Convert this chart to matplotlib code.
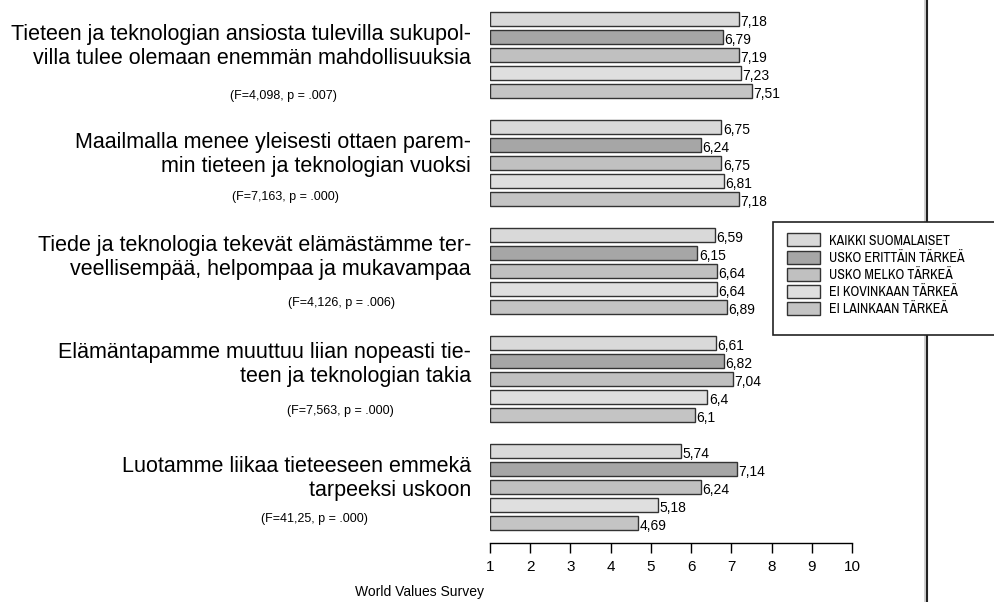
import matplotlib
matplotlib.use("Agg")
import matplotlib.pyplot as plt
import matplotlib.transforms as mtransforms
from matplotlib import font_manager
from matplotlib.font_manager import FontProperties
from matplotlib.patches import Rectangle
from matplotlib.lines import Line2D

# statements, each split onto two lines as in the report
statements = [
    "Tieteen ja teknologian ansiosta tulevilla sukupol-\nvilla tulee olemaan enemmän mahdollisuuksia",
    "Maailmalla menee yleisesti ottaen parem-\nmin tieteen ja teknologian vuoksi",
    "Tiede ja teknologia tekevät elämästämme ter-\nveellisempää, helpompaa ja mukavampaa",
    "Elämäntapamme muuttuu liian nopeasti tie-\nteen ja teknologian takia",
    "Luotamme liikaa tieteeseen emmekä\ntarpeeksi uskoon",
]
f_tests = [
    "(F=4,098, p = .007)",
    "(F=7,163, p = .000)",
    "(F=4,126, p = .006)",
    "(F=7,563, p = .000)",
    "(F=41,25, p = .000)",
]
groups = [
    "KAIKKI SUOMALAISET",
    "USKO ERITTÄIN TÄRKEÄ",
    "USKO MELKO TÄRKEÄ",
    "EI KOVINKAAN TÄRKEÄ",
    "EI LAINKAAN TÄRKEÄ",
]
kaikki = [7.18, 6.75, 6.59, 6.61, 5.74]
erittain = [6.79, 6.24, 6.15, 6.82, 7.14]
melko = [7.19, 6.75, 6.64, 7.04, 6.24]
kovinkaan = [7.23, 6.81, 6.64, 6.4, 5.18]
lainkaan = [7.51, 7.18, 6.89, 6.1, 4.69]
series = [kaikki, erittain, melko, kovinkaan, lainkaan]

colors = ["#d9d9d9", "#a6a6a6", "#c0c0c0", "#dfdfdf", "#c4c4c4"]
edge = "#333333"

# text placement tweaks per statement (in bar rows)
title_dy = [0.85, 0.85, 0.6, 0.55, 0.85]
f_dy = [4.28, 3.9, 3.8, 3.8, 3.75]
f_x = [283, 285, 342, 340, 314]

plt.rcParams["font.family"] = ["Liberation Sans", "DejaVu Sans"]

# pick a narrow face for the legend if one is installed
legend_font = FontProperties(family="Liberation Sans", size=8)
fonts = font_manager.fontManager.ttflist
narrow = [f for f in fonts if "Narrow" in f.name and "Bold" not in f.fname
          and "Italic" not in f.fname]
if not narrow:
    narrow = [f for f in fonts if f.name == "DejaVu Sans" and f.stretch == "condensed"
              and f.weight in (400, "normal") and f.style == "normal"]
if narrow:
    legend_font = FontProperties(fname=narrow[0].fname, size=10)

W, H = 995, 602
fig = plt.figure(figsize=(W / 100, H / 100), dpi=100)


def fx(px):
    return px / W


def fy(py):
    return 1 - py / H


ax = fig.add_axes([fx(490), fy(543), 362 / W, 543 / H])
ax.set_xlim(1, 10)
ax.set_ylim(29.11, -1.056)

for g in range(len(statements)):
    for i, vals in enumerate(series):
        y = g * 6 + i
        v = vals[g]
        ax.barh(y, v - 1, left=1, height=0.78, color=colors[i],
                edgecolor=edge, linewidth=1)
        ax.text(v + 0.04, y + 0.15, f"{v:g}".replace(".", ","),
                ha="left", va="center", fontsize=10, clip_on=False)

for s in ["top", "left", "right"]:
    ax.spines[s].set_visible(False)
ax.spines["bottom"].set_linewidth(1)
ax.set_yticks([])
ax.set_xticks(range(1, 11))
ax.tick_params(axis="x", length=7, width=1, labelsize=11, pad=5)

trans = mtransforms.blended_transform_factory(fig.transFigure, ax.transData)
for g, text in enumerate(statements):
    line1, line2 = text.split("\n")
    y0 = g * 6
    ax.text(fx(471), y0 + title_dy[g], line1, transform=trans,
            ha="right", va="center", fontsize=15.5)
    ax.text(fx(471), y0 + title_dy[g] + 1.33, line2, transform=trans,
            ha="right", va="center", fontsize=15.5)
    ax.text(fx(f_x[g]), y0 + f_dy[g], f_tests[g], transform=trans,
            ha="center", va="center", fontsize=9)

# frame line on the right with its soft shadow
fig.add_artist(Line2D([fx(925.5), fx(925.5)], [0, 1], color="#c8c8c8", lw=1.2,
                      zorder=1))
fig.add_artist(Line2D([fx(927), fx(927)], [0, 1], color="#222222", lw=1.5,
                      zorder=1))

# legend box drawn over the frame line
fig.add_artist(Rectangle((fx(773), fy(335)), fx(1000) - fx(773), (335 - 222) / H,
                         transform=fig.transFigure, facecolor="white",
                         edgecolor="#222222", linewidth=1.2, zorder=5))
for i, name in enumerate(groups):
    cy = 240 + 17 * i
    fig.add_artist(Rectangle((fx(787), fy(cy + 6.5)), 33 / W, 13 / H,
                             transform=fig.transFigure, facecolor=colors[i],
                             edgecolor=edge, linewidth=1, zorder=6))
    fig.text(fx(829), fy(cy + 1), name, ha="left", va="center",
             fontproperties=legend_font, zorder=6)

fig.text(fx(420), fy(592), "World Values Survey", ha="center", va="center",
         fontsize=10)

fig.savefig("out.png", dpi=100)
